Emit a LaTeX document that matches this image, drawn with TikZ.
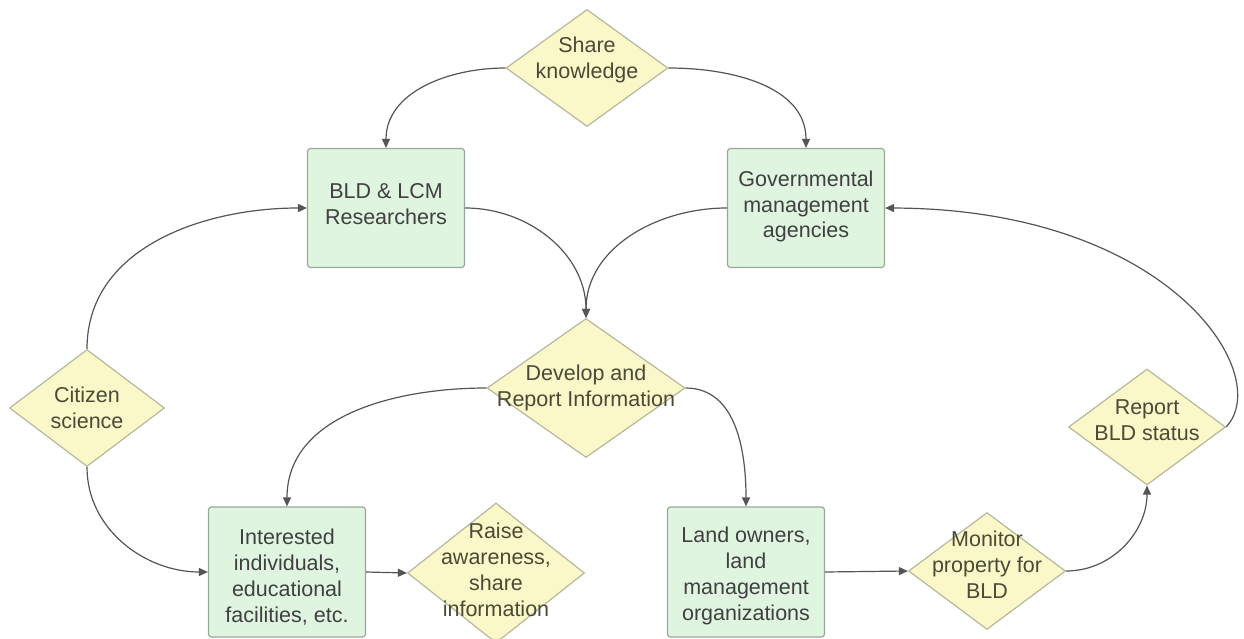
\documentclass[tikz,border=0pt]{standalone}
\usepackage{fontspec}
\setmainfont{Liberation Sans}
\usetikzlibrary{shapes.geometric,arrows.meta}
\definecolor{boxfill}{HTML}{DFF5E0}
\definecolor{boxline}{HTML}{9AA89B}
\definecolor{diafill}{HTML}{FAF8C8}
\definecolor{dialine}{HTML}{B9B79C}
\definecolor{txtcol}{HTML}{404040}
\definecolor{dtxt}{HTML}{4A4A36}
\definecolor{linecol}{HTML}{555555}
\begin{document}
\begin{tikzpicture}[x=1pt,y=-1pt,
  box/.style={draw=boxline, fill=boxfill, rounded corners=3pt, line width=1.2pt,
    minimum width=157pt, minimum height=119pt, inner sep=0pt},
  dia/.style={diamond, draw=dialine, fill=diafill, line width=1.2pt, inner sep=0pt},
  btxt/.style={text=txtcol, align=center, font=\fontsize{21.5}{25.8}\selectfont},
  dtx/.style={text=dtxt, align=center, font=\fontsize{21.5}{25.8}\selectfont},
  conn/.style={draw=linecol, line width=1.2pt, -{Triangle[length=9pt,width=8pt]}}]
\useasboundingbox (0,0) rectangle (1244,639);
\clip (0,0) rectangle (1244,639);
\fill[white] (0,0) rectangle (1244,639);

% boxes
\node[box, label={[btxt,yshift=4pt]center:BLD \& LCM\\Researchers}] (bld) at (386,208) {};
\node[box, label={[btxt,yshift=1.5pt]center:Governmental\\management\\agencies}] (gov) at (806,208) {};
\node[box, minimum height=130pt, label={[btxt,yshift=-5pt]center:Interested\\individuals,\\educational\\facilities, etc.}] (int) at (287,572) {};
\node[box, minimum height=130pt, label={[btxt,yshift=-4pt]center:Land owners,\\land\\management\\organizations}] (land) at (746,572) {};

% diamonds
\node[dia, minimum width=162pt, minimum height=117pt, label={[dtx,yshift=8pt]center:Share\\knowledge}] (sk) at (587,68) {};
\node[dia, minimum width=198pt, minimum height=139pt, label={[dtx]center:Develop and\\Report Information}] (dev) at (586,388) {};
\node[dia, minimum width=155pt, minimum height=117pt, label={[dtx]center:Citizen\\science}] (cit) at (87,408) {};
\node[dia, minimum width=157pt, minimum height=116pt, label={[dtx,yshift=6.5pt]center:Report\\BLD status}] (rep) at (1147,427) {};
\node[dia, minimum width=177pt, minimum height=140pt, label={[dtx,yshift=3pt]center:Raise\\awareness,\\share\\information}] (raise) at (496,573) {};
\node[dia, minimum width=157pt, minimum height=117pt, label={[dtx,yshift=6pt]center:Monitor\\property for\\BLD}] (mon) at (987,571) {};

% connectors
\draw[conn] (sk.west) to[out=180,in=90] (bld.north);
\draw[conn] (sk.east) to[out=0,in=90] (gov.north);
\draw[conn] (bld.east) to[out=0,in=90] (dev.north);
\draw[conn] (gov.west) to[out=180,in=90] (dev.north);
\draw[conn] (cit.north) to[out=90,in=180] (bld.west);
\draw[conn] (cit.south) to[out=-90,in=180] (int.west);
\draw[conn] (dev.west) to[out=180,in=90] (int.north);
\draw[conn] (dev.east) to[out=0,in=90] (land.north);
\draw[conn] (int.east) -- (raise.west);
\draw[conn] (land.east) -- (mon.west);
\draw[conn] (mon.east) to[out=0,in=-90] (rep.south);
\draw[conn] (rep.east) .. controls (1275,375) and (1170,209) .. (gov.east);
\end{tikzpicture}
\end{document}
